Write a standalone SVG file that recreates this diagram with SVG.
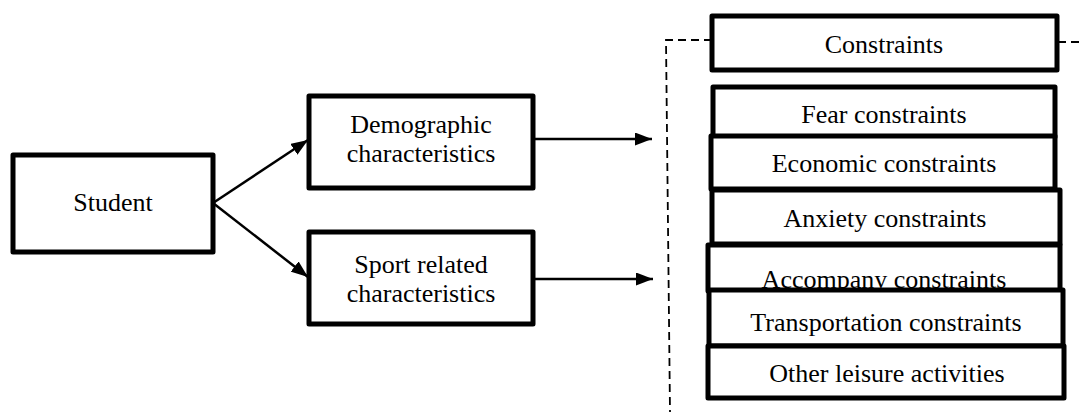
<svg xmlns="http://www.w3.org/2000/svg" width="1084" height="412" viewBox="0 0 1084 412">
<style>
  .box { fill: #fff; stroke: #000; stroke-width: 5; stroke-linejoin: round; }
  .t { font-family: "Liberation Serif", "Times New Roman", serif; font-size: 26px; fill: #000; text-anchor: middle; }
  .conn { stroke: #000; stroke-width: 2.5; fill: none; }
  .dash { stroke: #000; stroke-width: 1.8; fill: none; stroke-dasharray: 8 5; }
</style>
<defs>
  <marker id="arr" markerWidth="17" markerHeight="13" refX="17" refY="6.5" orient="auto" markerUnits="userSpaceOnUse">
    <path d="M0,0 L17,6.5 L0,13 Z" fill="#000"/>
  </marker>
</defs>
<g id="connectors">
  <line class="conn" x1="213" y1="203" x2="308" y2="140" marker-end="url(#arr)"/>
  <line class="conn" x1="213" y1="203" x2="308" y2="277" marker-end="url(#arr)"/>
  <line class="conn" x1="533" y1="139" x2="652" y2="139" marker-end="url(#arr)"/>
  <line class="conn" x1="533" y1="279" x2="653" y2="279" marker-end="url(#arr)"/>
  <path class="dash" d="M712,40 L666,40 L670,412"/>
  <line class="dash" x1="1058" y1="42" x2="1084" y2="42"/>
</g>
<g id="student">
  <rect class="box" x="13" y="155" width="200" height="97"/>
  <text class="t" x="113" y="211">Student</text>
</g>
<g id="demographic">
  <rect class="box" x="309" y="96" width="224" height="92"/>
  <text class="t" x="421" y="133">Demographic</text>
  <text class="t" x="421" y="162">characteristics</text>
</g>
<g id="sport">
  <rect class="box" x="309" y="232" width="224" height="92"/>
  <text class="t" x="421" y="273">Sport related</text>
  <text class="t" x="421" y="302">characteristics</text>
</g>
<g id="constraints">
  <rect class="box" x="712" y="16" width="345" height="54"/>
  <text class="t" x="884" y="53">Constraints</text>
</g>
<g id="fear">
  <rect class="box" x="713" y="87" width="342" height="50"/>
  <text class="t" x="884" y="123">Fear constraints</text>
</g>
<g id="economic">
  <rect class="box" x="711" y="136" width="344" height="53"/>
  <text class="t" x="884" y="172">Economic constraints</text>
</g>
<g id="anxiety">
  <rect class="box" x="712" y="190" width="348" height="54"/>
  <text class="t" x="885" y="227">Anxiety constraints</text>
</g>
<g id="accompany">
  <rect class="box" x="708" y="245" width="352" height="46"/>
  <text class="t" x="884" y="288">Accompany constraints</text>
</g>
<g id="transportation">
  <rect class="box" x="709" y="290" width="354" height="56"/>
  <text class="t" x="886" y="331">Transportation constraints</text>
</g>
<g id="other">
  <rect class="box" x="708" y="346" width="356" height="52"/>
  <text class="t" x="887" y="382">Other leisure activities</text>
</g>
</svg>
